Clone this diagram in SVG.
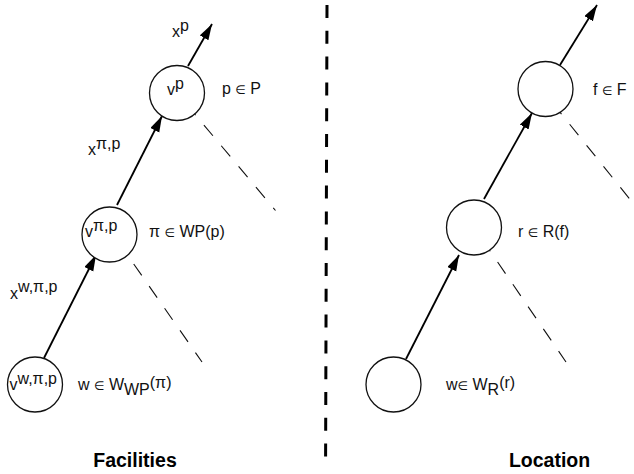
<svg xmlns="http://www.w3.org/2000/svg" width="634" height="474" viewBox="0 0 634 474">
  <style>
    .node { fill: #fff; stroke: #111; stroke-width: 1.3; }
    .arc { stroke: #000; stroke-width: 1.8; fill: none; marker-end: url(#head); }
    .dash { stroke: #111; stroke-width: 1.1; fill: none; stroke-dasharray: 14 13; stroke-dashoffset: 10; }
    .divider { stroke: #000; stroke-width: 3; stroke-dasharray: 13 12.8; }
    text { font-family: "Liberation Sans", "DejaVu Sans", sans-serif; font-size: 16px; fill: #111; }
    .in { font-size: 12px; }
    .title { font-weight: bold; fill: #000; font-size: 19.5px; }
  </style>
  <defs>
    <marker id="head" markerUnits="userSpaceOnUse" markerWidth="18" markerHeight="12" refX="16" refY="5" orient="auto">
      <path d="M0,0 L16,5 L0,10 z" fill="#000"/>
    </marker>
  </defs>

  <!-- divider between the two halves -->
  <line class="divider" x1="327" y1="5" x2="325.6" y2="457"/>

  <!-- connectors: solid flow arcs and dashed sibling branches -->
  <g id="connectors">
    <line class="arc" x1="44" y1="358" x2="96" y2="255"/>
    <line class="arc" x1="117" y1="205" x2="162" y2="116"/>
    <line class="arc" x1="188" y1="66" x2="212" y2="24"/>
    <line class="arc" x1="406" y1="359" x2="459" y2="255"/>
    <line class="arc" x1="484" y1="199" x2="532" y2="113"/>
    <line class="arc" x1="560" y1="65" x2="597" y2="5"/>
    <line class="dash" x1="193" y1="112" x2="275.5" y2="210.5"/>
    <line class="dash" x1="124" y1="250" x2="202" y2="362"/>
    <line class="dash" x1="559" y1="111" x2="641" y2="213"/>
    <line class="dash" x1="488" y1="248" x2="566" y2="362"/>
  </g>

  <!-- Facilities side -->
  <g id="node-vp">
    <circle class="node" cx="177" cy="93" r="27.5"/>
    <text x="167" y="95">v<tspan dy="-6">p</tspan></text>
  </g>
  <g id="node-vpip">
    <circle class="node" cx="109.5" cy="234.5" r="27.5"/>
    <text x="85" y="237">v<tspan dy="-6.5">π,p</tspan></text>
  </g>
  <g id="node-vwpip">
    <circle class="node" cx="35" cy="384.5" r="27.5"/>
    <text x="9.5" y="390">v<tspan dy="-6">w,π,p</tspan></text>
  </g>

  <!-- Location side -->
  <g id="node-f">
    <circle class="node" cx="545.5" cy="89" r="27.5"/>
  </g>
  <g id="node-r">
    <circle class="node" cx="474" cy="227.5" r="27.5"/>
  </g>
  <g id="node-w">
    <circle class="node" cx="393.5" cy="384.5" r="27.5"/>
  </g>

  <!-- flow labels and set memberships -->
  <g id="labels">
    <text x="172" y="37">x<tspan dy="-6">p</tspan></text>
    <text x="88" y="155">x<tspan dy="-6.5">π,p</tspan></text>
    <text x="10" y="299">x<tspan dy="-7">w,π,p</tspan></text>
    <text x="222" y="94">p <tspan class="in">∈</tspan> P</text>
    <text x="149" y="237">π <tspan class="in">∈</tspan> WP(p)</text>
    <text x="78" y="390">w <tspan class="in">∈</tspan> W<tspan dy="5">WP</tspan><tspan dy="-7">(π)</tspan></text>
    <text x="593" y="95">f <tspan class="in">∈</tspan> F</text>
    <text x="518" y="237">r <tspan class="in">∈</tspan> R(f)</text>
    <text x="446" y="390">w<tspan class="in">∈</tspan> W<tspan dy="5">R</tspan><tspan dy="-7">(r)</tspan></text>
  </g>

  <text class="title" x="135" y="467" text-anchor="middle">Facilities</text>
  <text class="title" x="549.5" y="467" text-anchor="middle">Location</text>
</svg>
